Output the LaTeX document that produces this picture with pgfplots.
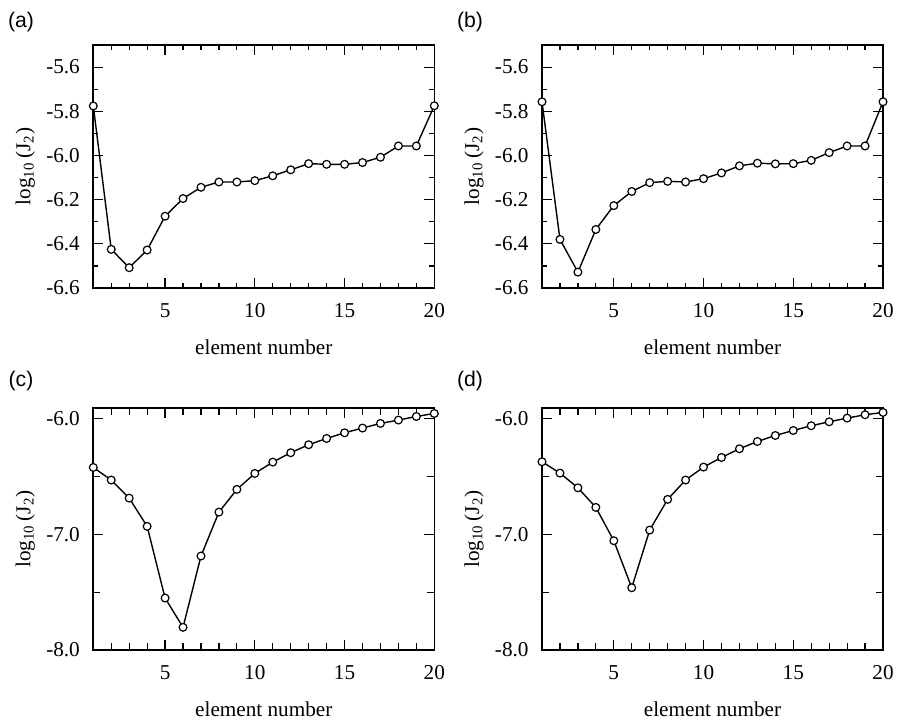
\documentclass[border=0pt]{standalone}
\usepackage{fontspec}
\setmainfont{Liberation Serif}
\newfontfamily\labelfont{Liberation Sans}
\usepackage{pgfplots}
\pgfplotsset{compat=1.18}
\pgfplotsset{panel/.style={
  scale only axis, width=170.5pt,
  xmin=1, xmax=20, xtick={5,10,15,20},
  minor xtick={1,2,3,4,6,7,8,9,11,12,13,14,16,17,18,19},
  tick align=inside, major tick length=5pt, minor tick length=2.5pt,
  every tick/.style={line width=0.6pt, black},
  axis line style={line width=0.8pt},
  clip=false,
  /pgf/number format/assume math mode=true,
  ticklabel style={font=\rmfamily},
  yticklabel style={xshift=-3pt, /pgf/number format/.cd, fixed, fixed zerofill, precision=1, assume math mode=true},
  xticklabel style={yshift=-4pt},
  xlabel={element number},
  ylabel={log\textsubscript{10}\,(J\textsubscript{2})},
  xlabel style={at={(axis description cs:0.5,-0.245)}, anchor=center},
  ylabel style={at={(axis description cs:-0.1994,0.5)}, anchor=center},
},
curve/.style={black, line width=0.7pt, mark=*, mark size=1.95pt,
    mark options={fill=white, draw=black, line width=0.6pt, solid}},
top/.style={panel, height=121.5pt, ymin=-6.6, ymax=-5.5,
  ytick={-6.6,-6.4,-6.2,-6.0,-5.8,-5.6},
  minor ytick={-6.5,-6.3,-6.1,-5.9,-5.7}},
bot/.style={panel, height=121pt, ymin=-8.0, ymax=-5.91,
  ytick={-8,-7,-6}, minor ytick={-7.5,-6.5}, minor tick length=3.5pt}
}
\begin{document}
\fontsize{10.6pt}{12.7pt}\selectfont
\begin{tikzpicture}
\useasboundingbox (0,0) rectangle (448.5pt,-360pt);
\node[font=\labelfont] at (10.5pt,-11pt) {(a)};
\node[font=\labelfont] at (235pt,-11pt) {(b)};
\node[font=\labelfont] at (10.5pt,-190.5pt) {(c)};
\node[font=\labelfont] at (235pt,-190.5pt) {(d)};
\begin{axis}[top, at={(46.65pt,-144pt)}, anchor=south west]
\addplot[curve] coordinates {(1,-5.776) (2,-6.425) (3,-6.508) (4,-6.428) (5,-6.275)
 (6,-6.195) (7,-6.144) (8,-6.120) (9,-6.120) (10,-6.114) (11,-6.092) (12,-6.065)
 (13,-6.037) (14,-6.040) (15,-6.040) (16,-6.032) (17,-6.008) (18,-5.957)
 (19,-5.957) (20,-5.775)};
\end{axis}
\begin{axis}[top, at={(271pt,-144pt)}, anchor=south west]
\addplot[curve] coordinates {(1,-5.757) (2,-6.380) (3,-6.528) (4,-6.335) (5,-6.227)
 (6,-6.163) (7,-6.123) (8,-6.117) (9,-6.120) (10,-6.105) (11,-6.079) (12,-6.047)
 (13,-6.035) (14,-6.038) (15,-6.037) (16,-6.022) (17,-5.987) (18,-5.957)
 (19,-5.957) (20,-5.757)};
\end{axis}
\begin{axis}[bot, at={(46.65pt,-325pt)}, anchor=south west]
\addplot[curve] coordinates {(1,-6.423) (2,-6.532) (3,-6.688) (4,-6.932) (5,-7.551)
 (6,-7.804) (7,-7.188) (8,-6.809) (9,-6.613) (10,-6.475) (11,-6.377) (12,-6.296)
 (13,-6.227) (14,-6.173) (15,-6.124) (16,-6.083) (17,-6.043) (18,-6.014)
 (19,-5.983) (20,-5.957)};
\end{axis}
\begin{axis}[bot, at={(271pt,-325pt)}, anchor=south west]
\addplot[curve] coordinates {(1,-6.374) (2,-6.472) (3,-6.599) (4,-6.768) (5,-7.056)
 (6,-7.462) (7,-6.964) (8,-6.699) (9,-6.532) (10,-6.420) (11,-6.337) (12,-6.262)
 (13,-6.199) (14,-6.147) (15,-6.104) (16,-6.063) (17,-6.029) (18,-5.997)
 (19,-5.968) (20,-5.948)};
\end{axis}
\end{tikzpicture}
\end{document}
